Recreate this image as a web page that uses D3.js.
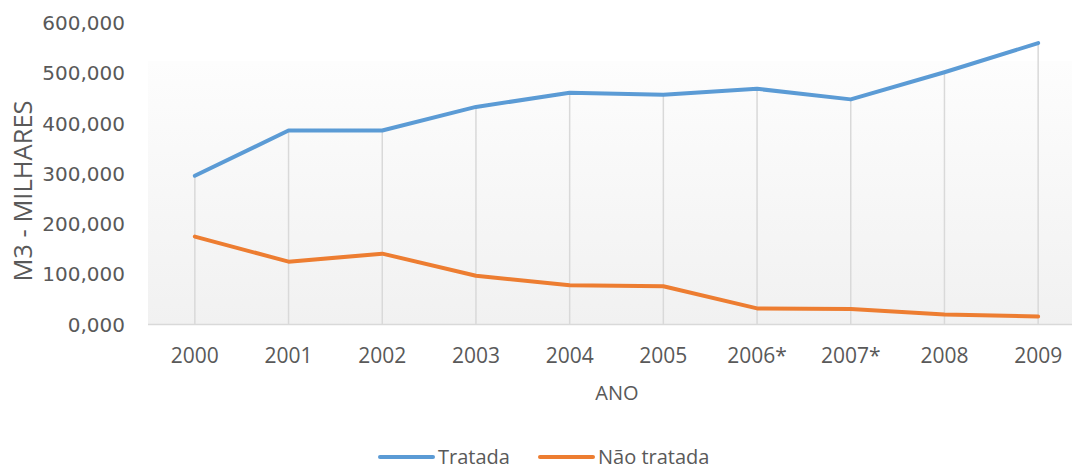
<!DOCTYPE html>
<html>
<head>
<meta charset="utf-8">
<script src="https://cdn.jsdelivr.net/npm/d3@7"></script>
<style>
  body { margin: 0; background: #fff; }
  .tick-label { font-family: "DejaVu Sans"; font-size: 20px; fill: #595959; }
  .cat-label { font-family: "Open Sans"; font-size: 21px; fill: #595959; }
  .axis-title { font-family: "Open Sans"; font-size: 20px; fill: #595959; }
</style>
</head>
<body>
<div id="chart"></div>
<script>
// data
var years = ["2000", "2001", "2002", "2003", "2004", "2005", "2006*", "2007*", "2008", "2009"];
var tratada = [296000, 386000, 386000, 433000, 461000, 457000, 469000, 448000, 502000, 560000];
var naoTratada = [175000, 125000, 141000, 97000, 78000, 76000, 32000, 31000, 20000, 16000];
var yTicks = [0, 100000, 200000, 300000, 400000, 500000, 600000];
var yTickLabels = ["0,000", "100,000", "200,000", "300,000", "400,000", "500,000", "600,000"];
var seriesNames = ["Tratada", "Não tratada"];
var seriesColors = ["#5b9bd5", "#ed7d31"];

var width = 1072, height = 471;

var svg = d3.select("#chart")
  .append("svg")
    .attr("width", width)
    .attr("height", height);

// scales
var x = d3.scaleBand()
  .domain(years)
  .range([148, 1085])
  .padding(0);
var cx = function(d) { return x(d) + x.bandwidth() / 2; };

var y = d3.scaleLinear()
  .domain([0, 600000])
  .range([324.5, 23]);

// plot area background
var grad = svg.append("defs").append("linearGradient")
  .attr("id", "bg").attr("x1", 0).attr("y1", 0).attr("x2", 0).attr("y2", 1);
grad.append("stop").attr("offset", "0%").attr("stop-color", "#fdfdfd");
grad.append("stop").attr("offset", "100%").attr("stop-color", "#f1f1f1");

svg.append("rect")
  .attr("x", 148)
  .attr("y", 61)
  .attr("width", width - 148)
  .attr("height", y(0) - 61)
  .attr("fill", "url(#bg)");

// drop lines
svg.selectAll(".drop")
  .data(years)
  .enter()
  .append("line")
    .attr("x1", cx).attr("x2", cx)
    .attr("y1", function(d, i) { return y(Math.max(tratada[i], naoTratada[i])); })
    .attr("y2", y(0))
    .attr("stroke", "#d9d9d9")
    .attr("stroke-width", 1.5);

// bottom axis line
svg.append("line")
  .attr("x1", 148).attr("x2", width)
  .attr("y1", y(0)).attr("y2", y(0))
  .attr("stroke", "#d9d9d9")
  .attr("stroke-width", 1.5);

// y tick labels
svg.selectAll(".ytick")
  .data(yTicks)
  .enter()
  .append("text")
    .attr("class", "tick-label")
    .attr("x", 125)
    .attr("y", function(d) { return y(d); })
    .attr("dy", "0.36em")
    .style("text-anchor", "end")
    .text(function(d, i) { return yTickLabels[i]; });

// x labels
svg.selectAll(".xtick")
  .data(years)
  .enter()
  .append("text")
    .attr("class", "cat-label")
    .attr("x", cx)
    .attr("y", 355)
    .attr("dy", "0.36em")
    .style("text-anchor", "middle")
    .text(function(d) { return d; });

// axis titles
svg.append("text")
  .attr("class", "axis-title")
  .attr("x", 617)
  .attr("y", 393)
  .attr("dy", "0.36em")
  .style("text-anchor", "middle")
  .text("ANO");

svg.append("text")
  .attr("class", "axis-title")
  .attr("transform", "translate(23,191) rotate(-90)")
  .attr("dy", "0.36em")
  .style("text-anchor", "middle")
  .style("font-size", "25.5px")
  .text("M3 - MILHARES");

// lines
var line = d3.line()
  .x(function(d) { return cx(d.year); })
  .y(function(d) { return y(d.value); });

[tratada, naoTratada].forEach(function(vals, s) {
  var pts = years.map(function(yr, i) { return {year: yr, value: vals[i]}; });
  svg.append("path")
    .datum(pts)
    .attr("d", line)
    .attr("fill", "none")
    .attr("stroke", seriesColors[s])
    .attr("stroke-width", 4)
    .attr("stroke-linecap", "round")
    .attr("stroke-linejoin", "round");
});

// legend
var legendX = [380, 540];
seriesNames.forEach(function(name, s) {
  var g = svg.append("g").attr("transform", "translate(" + legendX[s] + ",457)");
  g.append("line")
    .attr("x1", 0).attr("x2", 53)
    .attr("y1", 0).attr("y2", 0)
    .attr("stroke", seriesColors[s])
    .attr("stroke-width", 4)
    .attr("stroke-linecap", "round");
  g.append("text")
    .attr("class", "axis-title")
    .attr("x", 58)
    .attr("y", 0)
    .attr("dy", "0.34em")
    .style("font-size", "20px")
    .text(name);
});
</script>
</body>
</html>
